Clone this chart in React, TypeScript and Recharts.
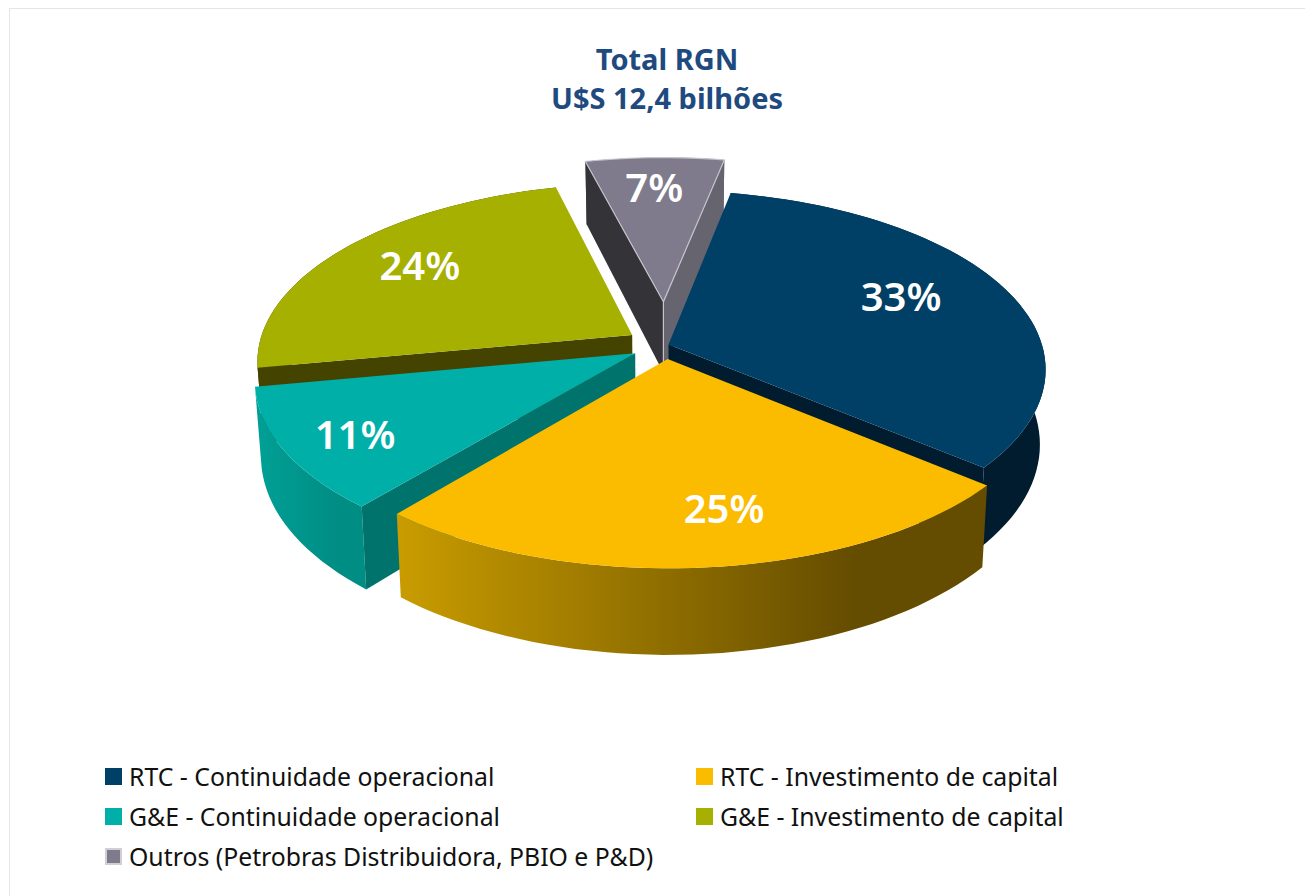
import { Legend, Pie, PieChart } from "recharts";

const categories = [
  "RTC - Continuidade operacional",
  "RTC - Investimento de capital",
  "G&E - Continuidade operacional",
  "G&E - Investimento de capital",
  "Outros (Petrobras Distribuidora, PBIO e P&D)",
];
const shares = [33, 25, 11, 24, 7];
const titleLines = ["Total RGN", "U$S 12,4 bilhões"];

// painter's order, back slices first
const drawOrder = [4, 3, 0, 2, 1];

// walls: the two cut faces, clockwise; null where the face looks away from us
const sliceLooks = [
  { top: "#004066", walls: [null, "#001c2e"], outer: ["#001c2e", "#001c2e"], explode: 0.01, explodeTurn: 0, labelR: 0.71, labelTurn: -4.4 },
  { top: "#fbbc00", walls: [null, null], outer: ["#c99c00", "#644c00"], explode: 0.08, explodeTurn: 0, labelR: 0.75, labelTurn: -5 },
  { top: "#00b0a8", walls: ["#00736c", null], outer: ["#00a096", "#008d84"], explode: 0.092, explodeTurn: 0, labelR: 0.815, labelTurn: -1 },
  { top: "#a6b000", walls: ["#444400", null], outer: ["#444400", "#444400"], explode: 0.105, explodeTurn: 0, labelR: 0.75, labelTurn: 2.6 },
  { top: "#807b8c", walls: ["#333338", "#66646f"], outer: ["#55535c", "#55535c"], explode: 0.255, explodeTurn: 0.6, labelR: 0.78, labelTurn: -0.5 },
];

const rows = categories.map((name, i) => ({ name, value: shares[i], sliceIndex: i }));

const FONT = "'Noto Sans', sans-serif";
const TILT = 0.47;
const PERSPECTIVE = 0.14;
const DEPTH = 73.5;
const TAPER = 0.985;
const RAD = Math.PI / 180;

const Slice3D = (props: any) => {
  const { cx, cy, outerRadius, startAngle, endAngle, sliceIndex, value, only } = props;
  if (sliceIndex !== only) return null;
  const look = sliceLooks[sliceIndex];
  const mid = (startAngle + endAngle) / 2;
  const pull = mid - look.explodeTurn;
  const ex = Math.cos(pull * RAD) * look.explode;
  const ey = -Math.sin(pull * RAD) * look.explode;

  const project = (x: number, y: number) => {
    const s = 1 / (1 - PERSPECTIVE * y);
    return { x: cx + outerRadius * x * s, y: cy + outerRadius * TILT * y * s, s };
  };
  const lower = (p: any) => ({
    x: cx + (p.x - cx) * TAPER,
    y: p.y + DEPTH * p.s,
  });
  const path = (pts: any[]) => "M" + pts.map((p) => `${p.x.toFixed(1)},${p.y.toFixed(1)}`).join("L") + "Z";

  const apex = project(ex, ey);
  const arc: any[] = [];
  const steps = Math.ceil(Math.abs(startAngle - endAngle) / 2);
  for (let i = 0; i <= steps; i++) {
    const a = startAngle + ((endAngle - startAngle) * i) / steps;
    arc.push(project(Math.cos(a * RAD) + ex, -Math.sin(a * RAD) + ey));
  }
  const first = arc[0];
  const last = arc[arc.length - 1];
  const gradId = `outer-${sliceIndex}`;
  const xs = arc.map((p) => p.x);
  const x0 = Math.min(...xs);
  const x1 = Math.max(...xs);

  const labelAngle = mid - look.labelTurn;
  const spot = project(
    Math.cos(labelAngle * RAD) * look.labelR + ex,
    -Math.sin(labelAngle * RAD) * look.labelR + ey,
  );

  return (
    <g>
      <defs>
        <linearGradient id={gradId} gradientUnits="userSpaceOnUse" x1={x0} y1="0" x2={x0 + (x1 - x0) * 0.78} y2="0">
          <stop offset="0%" stopColor={look.outer[0]} />
          <stop offset="100%" stopColor={look.outer[1]} />
        </linearGradient>
      </defs>
      <path d={path([...arc, ...arc.map(lower).reverse()])} fill={`url(#${gradId})`} />
      {look.walls[0] && <path d={path([apex, first, lower(first), lower(apex)])} fill={look.walls[0]} />}
      {look.walls[1] && <path d={path([apex, last, lower(last), lower(apex)])} fill={look.walls[1]} />}
      <path
        d={path([apex, ...arc])}
        fill={look.top}
        stroke={sliceIndex === 4 ? "#c6c4cc" : "none"}
        strokeWidth={1.2}
      />
      {sliceIndex === 4 && (
        <line x1={apex.x} y1={apex.y} x2={apex.x} y2={apex.y + DEPTH} stroke="#c6c4cc" strokeWidth={1.2} />
      )}
      <text
        x={spot.x}
        y={spot.y}
        textAnchor="middle"
        dominantBaseline="central"
        fill="#fff"
        fontFamily={FONT}
        fontWeight={600}
        fontSize={40}
      >
        {value}%
      </text>
    </g>
  );
};

const LegendBlock = () => (
  <div style={{ position: "relative", width: 1305, height: 130, fontFamily: FONT, fontSize: 24.8, color: "#111" }}>
    {categories.map((name, i) => (
      <div
        key={name}
        style={{
          position: "absolute",
          left: i % 2 === 0 || i === 4 ? 105 : 696,
          top: Math.floor(i / 2) * 40,
          height: 40,
          display: "flex",
          alignItems: "center",
          whiteSpace: "nowrap",
        }}
      >
        <span
          style={{
            width: 17,
            height: 17,
            marginRight: 7,
            background: sliceLooks[i].top,
            boxSizing: "border-box",
            border: i === 4 ? "2px solid #cfcfd4" : "none",
          }}
        />
        {name}
      </div>
    ))}
  </div>
);

export default function App() {
  return (
    <div style={{ position: "absolute", left: 0, top: 0, width: 1305, height: 896, background: "#fff", overflow: "hidden" }}>
      <div style={{ position: "absolute", left: 9, top: 8, width: 1400, height: 1000, border: "1px solid #e6e6e6" }} />
      <PieChart width={1305} height={896} margin={{ top: 0, right: 0, bottom: 0, left: 0 }} style={{ position: "absolute", left: 0, top: 0 }}>
        {titleLines.map((line, i) => (
          <text
            key={line}
            x={667}
            y={70 + i * 39}
            textAnchor="middle"
            fill="#1f4a80"
            fontFamily={FONT}
            fontWeight={700}
            fontSize={29}
          >
            {line}
          </text>
        ))}
        {drawOrder.map((only) => (
          <Pie
            key={only}
            data={rows}
            dataKey="value"
            nameKey="name"
            cx={665}
            cy={345}
            outerRadius={373.5}
            startAngle={79}
            endAngle={-281}
            stroke="none"
            legendType="none"
            isAnimationActive={false}
            shape={(p: any) => <Slice3D {...p} only={only} />}
          />
        ))}
        <Legend
          content={<LegendBlock />}
          wrapperStyle={{ position: "absolute", left: 0, top: 756, width: 1305 }}
        />
      </PieChart>
    </div>
  );
}
